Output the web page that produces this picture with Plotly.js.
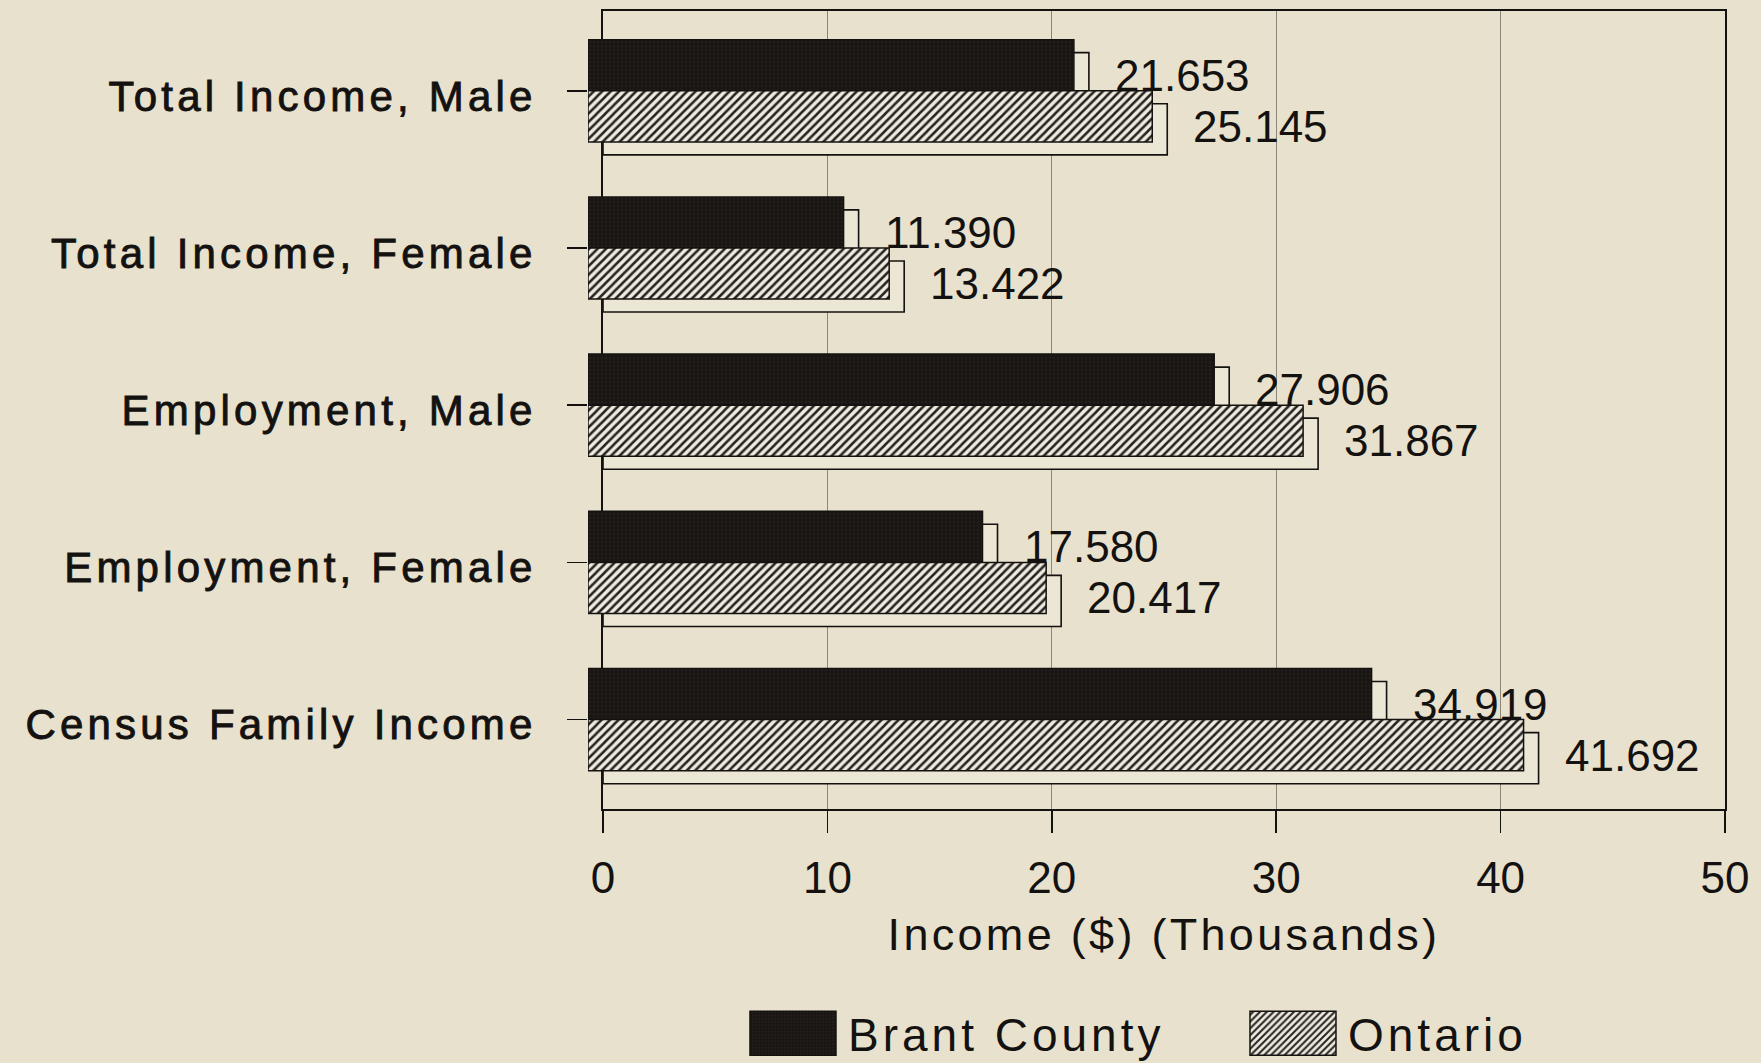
<!DOCTYPE html>
<html>
<head>
<meta charset="utf-8">
<script src="https://cdn.plot.ly/plotly-3.0.1.min.js"></script>
<style>
  html, body { margin: 0; padding: 0; background: #e8e1cd; }
  #chart { width: 1761px; height: 1063px; }
  .y2tick text { letter-spacing: 4.2px; stroke: #141210; stroke-width: 0.9px; }
  .legendtext { letter-spacing: 4px; }
  .xtitle { letter-spacing: 3.3px; }
</style>
</head>
<body>
<div id="chart"></div>
<script>
// ---- data ----
const categories = ['Total Income, Male', 'Total Income, Female', 'Employment, Male', 'Employment, Female', 'Census Family Income'];
const brantCounty = [21.653, 11.390, 27.906, 17.580, 34.919];
const ontario = [25.145, 13.422, 31.867, 20.417, 41.692];
const xTickValues = [0, 10, 20, 30, 40, 50];
const seriesNames = ['Brant County', 'Ontario'];

// ---- styles ----
const PAPER = '#e8e1cd';
const INK = '#141210';
const BARGAP = 0.35;
const darkMarker = {
  color: '#1c1815',
  line: {color: INK, width: 1.5},
  pattern: {shape: '.', fgcolor: '#332d28', bgcolor: '#1a1614', size: 4, solidity: 0.12}
};
const hatchMarker = {
  color: '#efebe0',
  line: {color: INK, width: 1.5},
  pattern: {shape: '/', fgcolor: '#262320', bgcolor: '#efebe0', size: 6, solidity: 0.42}
};
const depthMarker = {color: '#ece6d5', line: {color: INK, width: 1.6}};

const traces = [
  // back (depth) faces
  {type: 'bar', orientation: 'h', x: brantCounty, y: categories, xaxis: 'x', yaxis: 'y',
   marker: depthMarker, showlegend: false, hoverinfo: 'skip'},
  {type: 'bar', orientation: 'h', x: ontario, y: categories, xaxis: 'x', yaxis: 'y',
   marker: depthMarker, showlegend: false, hoverinfo: 'skip'},
  // front faces
  {type: 'bar', orientation: 'h', name: seriesNames[0], x: brantCounty, y: categories,
   xaxis: 'x2', yaxis: 'y2', marker: darkMarker},
  {type: 'bar', orientation: 'h', name: seriesNames[1], x: ontario, y: categories,
   xaxis: 'x2', yaxis: 'y2', marker: hatchMarker}
];

// value labels, placed through the back axes
const half = (1 - BARGAP) / 4;
const annotations = [];
categories.forEach((c, i) => {
  [[brantCounty, -half], [ontario, half]].forEach(([vals, off]) => {
    annotations.push({
      x: vals[i], y: i + off, xref: 'x', yref: 'y',
      text: vals[i].toFixed(3), showarrow: false,
      xanchor: 'left', yanchor: 'middle', xshift: 24, yshift: 3,
      font: {size: 44, color: INK}
    });
  });
});

const W = 1761, H = 1063;
const layout = {
  width: W, height: H,
  margin: {l: 0, r: 0, t: 0, b: 0, autoexpand: false},
  paper_bgcolor: PAPER,
  plot_bgcolor: 'rgba(0,0,0,0)',
  font: {family: 'Liberation Sans, Arial, sans-serif', color: INK, size: 44},
  barmode: 'group',
  bargap: BARGAP,
  bargroupgap: 0,
  xaxis: {
    domain: [603 / W, 1725 / W], range: [0, 50], anchor: 'y',
    tickvals: xTickValues, ticks: 'outside', ticklen: 22, tickwidth: 1.5, tickcolor: INK,
    ticklabelstandoff: 7,
    tickfont: {size: 44},
    showgrid: true, gridcolor: '#8d877a', gridwidth: 1,
    zeroline: false, showline: true, linecolor: INK, linewidth: 2, mirror: true,
    automargin: false, fixedrange: true,
    title: {text: 'Income ($) (Thousands)', font: {size: 45}, standoff: 18}
  },
  yaxis: {
    domain: [1 - 809 / H, 1 - 11 / H], anchor: 'x',
    type: 'category', categoryorder: 'array', categoryarray: categories,
    range: [4.486, -0.590],
    showticklabels: false, ticks: '', showgrid: false, zeroline: false,
    showline: true, linecolor: INK, linewidth: 2, mirror: true,
    automargin: false, fixedrange: true
  },
  xaxis2: {
    domain: [588 / W, 1710 / W], range: [0, 50], anchor: 'y2',
    visible: false, fixedrange: true
  },
  yaxis2: {
    domain: [1 - 798.2 / H, 1 - 12.2 / H], anchor: 'x2',
    type: 'category', categoryorder: 'array', categoryarray: categories,
    range: [4.5, -0.5],
    ticks: 'outside', ticklen: 20, tickwidth: 1.5, tickcolor: INK,
    ticklabelstandoff: 22, ticklabelshift: -5,
    tickfont: {size: 42},
    showgrid: false, zeroline: false, showline: false,
    automargin: false, fixedrange: true
  },
  showlegend: true,
  legend: {
    orientation: 'h', x: 0.703, xanchor: 'center', y: 0.028, yanchor: 'middle',
    font: {size: 46, color: INK}, bgcolor: 'rgba(0,0,0,0)', borderwidth: 0,
    itemwidth: 100, entrywidth: 385, entrywidthmode: 'pixels',
    traceorder: 'normal', itemclick: false, itemdoubleclick: false
  },
  annotations: annotations
};

Plotly.newPlot('chart', traces, layout, {displayModeBar: false, staticPlot: true}).then(() => {
  // enlarge the legend swatches to the boxed keys of the original
  document.querySelectorAll('.legendpoints path').forEach(p => {
    p.setAttribute('d', 'M43,22H-43V-22H43Z');
  });
});
</script>
</body>
</html>
